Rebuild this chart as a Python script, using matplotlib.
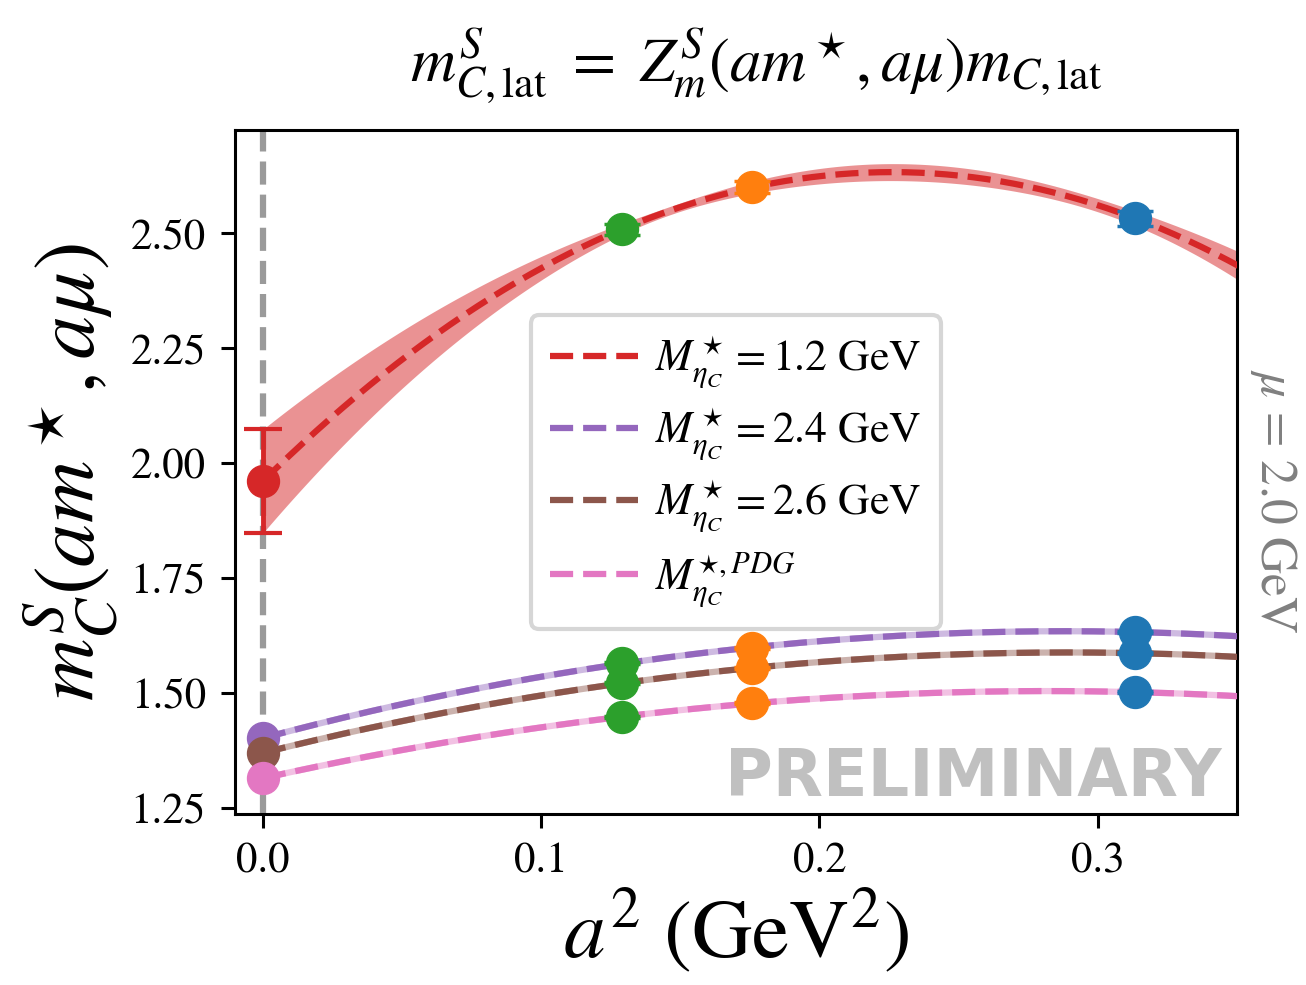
import numpy as np
import matplotlib
matplotlib.use('Agg')
import matplotlib.pyplot as plt
from matplotlib.ticker import FormatStrFormatter

plt.rcParams['font.family'] = 'serif'
plt.rcParams['font.serif'] = ['STIXGeneral', 'DejaVu Serif']
plt.rcParams['mathtext.fontset'] = 'stix'

# lattice spacings a^2 (GeV^2) of the three ensembles
a2 = np.array([0.1289, 0.1757, 0.3134])
point_colors = ['tab:green', 'tab:orange', 'tab:blue']

# series: one per M_eta_c^star choice
labels = [r'$M^\star_{\eta_C} = 1.2$ GeV',
          r'$M^\star_{\eta_C} = 2.4$ GeV',
          r'$M^\star_{\eta_C} = 2.6$ GeV',
          r'$M^{\star, PDG}_{\eta_C}$']
curve_colors = ['tab:red', 'tab:purple', 'tab:brown', 'tab:pink']
m_cont = [1.961, 1.402, 1.370, 1.315]   # continuum value at a^2 = 0
m_lat = [[2.509, 2.600, 2.533],
         [1.565, 1.598, 1.633],
         [1.522, 1.554, 1.587],
         [1.448, 1.478, 1.502]]
m_err = [[0.012, 0.013, 0.016],
         [0.002, 0.002, 0.002],
         [0.002, 0.002, 0.002],
         [0.002, 0.002, 0.002]]

fig = plt.figure(figsize=(13.06, 9.85), dpi=100)
ax = fig.add_axes([0.180, 0.1736, 0.767, 0.694])

ax.axvline(0, color='#9a9a9a', ls='--', lw=4.5, zorder=1)

xf = np.linspace(0, 0.36, 300)
lw = 4.5
handles = []
for i in range(4):
    x_all = np.concatenate([[0.0], a2])
    y_all = np.concatenate([[m_cont[i]], m_lat[i]])
    coef = np.polyfit(x_all, y_all, 2)
    fit = np.polyval(coef, xf)

    # error band from propagating the point errors through the quadratic
    sig = np.zeros_like(xf)
    for j in range(3):
        others = [k for k in range(3) if k != j]
        L = np.ones_like(xf)
        for k in others:
            L *= (xf - a2[k]) / (a2[j] - a2[k])
        sig += (L * m_err[i][j]) ** 2
    sig = np.sqrt(sig)

    c = curve_colors[i]
    if i == 0:
        ax.fill_between(xf, fit - sig, fit + sig, color=c, alpha=0.5, lw=0, zorder=2)
        err0 = sig[0]
        ax.errorbar([0], [m_cont[i]], yerr=[err0], fmt='o', color=c, ms=23,
                    elinewidth=3.5, capsize=14, capthick=3, zorder=5)
    else:
        ax.plot(xf, fit, color=c, alpha=0.45, lw=lw, zorder=2)
        ax.plot([0], [m_cont[i]], 'o', color=c, ms=23, zorder=5)
    h, = ax.plot(xf, fit, color=c, ls='--', lw=lw, zorder=3, label=labels[i])
    handles.append(h)

    for j in range(3):
        ax.errorbar([a2[j]], [m_lat[i][j]], yerr=[m_err[i][j]], fmt='o',
                    color=point_colors[j], ms=23, elinewidth=2.5, capsize=13,
                    capthick=2.5, zorder=6)

ax.set_xlim(-0.01, 0.35)
ax.set_ylim(1.237, 2.724)
ax.set_xticks([0.0, 0.1, 0.2, 0.3])
ax.set_yticks([1.25, 1.50, 1.75, 2.00, 2.25, 2.50])
ax.xaxis.set_major_formatter(FormatStrFormatter('%.1f'))
ax.yaxis.set_major_formatter(FormatStrFormatter('%.2f'))
ax.tick_params(labelsize=31, length=10, width=2.2, pad=11)
for s in ax.spines.values():
    s.set_linewidth(2.2)

ax.set_xlabel(r'$a^2$ (GeV$^2$)', fontsize=60, labelpad=4)
ax.set_ylabel(r'$m_C^S(am^\star, a\mu)$', fontsize=62, labelpad=8)
ax.set_title(r'$m^S_{C,\mathrm{lat}}\ =\ Z^S_m(am^\star, a\mu)m_{C,\mathrm{lat}}$',
             fontsize=45, pad=36, x=0.52)

leg = ax.legend(handles=handles, loc='center', fontsize=31.5, framealpha=0.8,
                edgecolor='#cccccc', fancybox=True, labelspacing=0.35,
                borderpad=0.45, handletextpad=0.4)
leg.get_frame().set_linewidth(3)

ax.text(1.037, 0.458, r'$\mu$ = 2.0 GeV', rotation=270, transform=ax.transAxes,
        ha='center', va='center', color='gray', fontsize=37)
ax.text(0.985, 0.006, 'PRELIMINARY', transform=ax.transAxes, ha='right',
        va='bottom', fontsize=47, fontweight='bold', family='DejaVu Sans',
        color='#c0c0c0', zorder=10)

fig.savefig('out.png', dpi=100)
